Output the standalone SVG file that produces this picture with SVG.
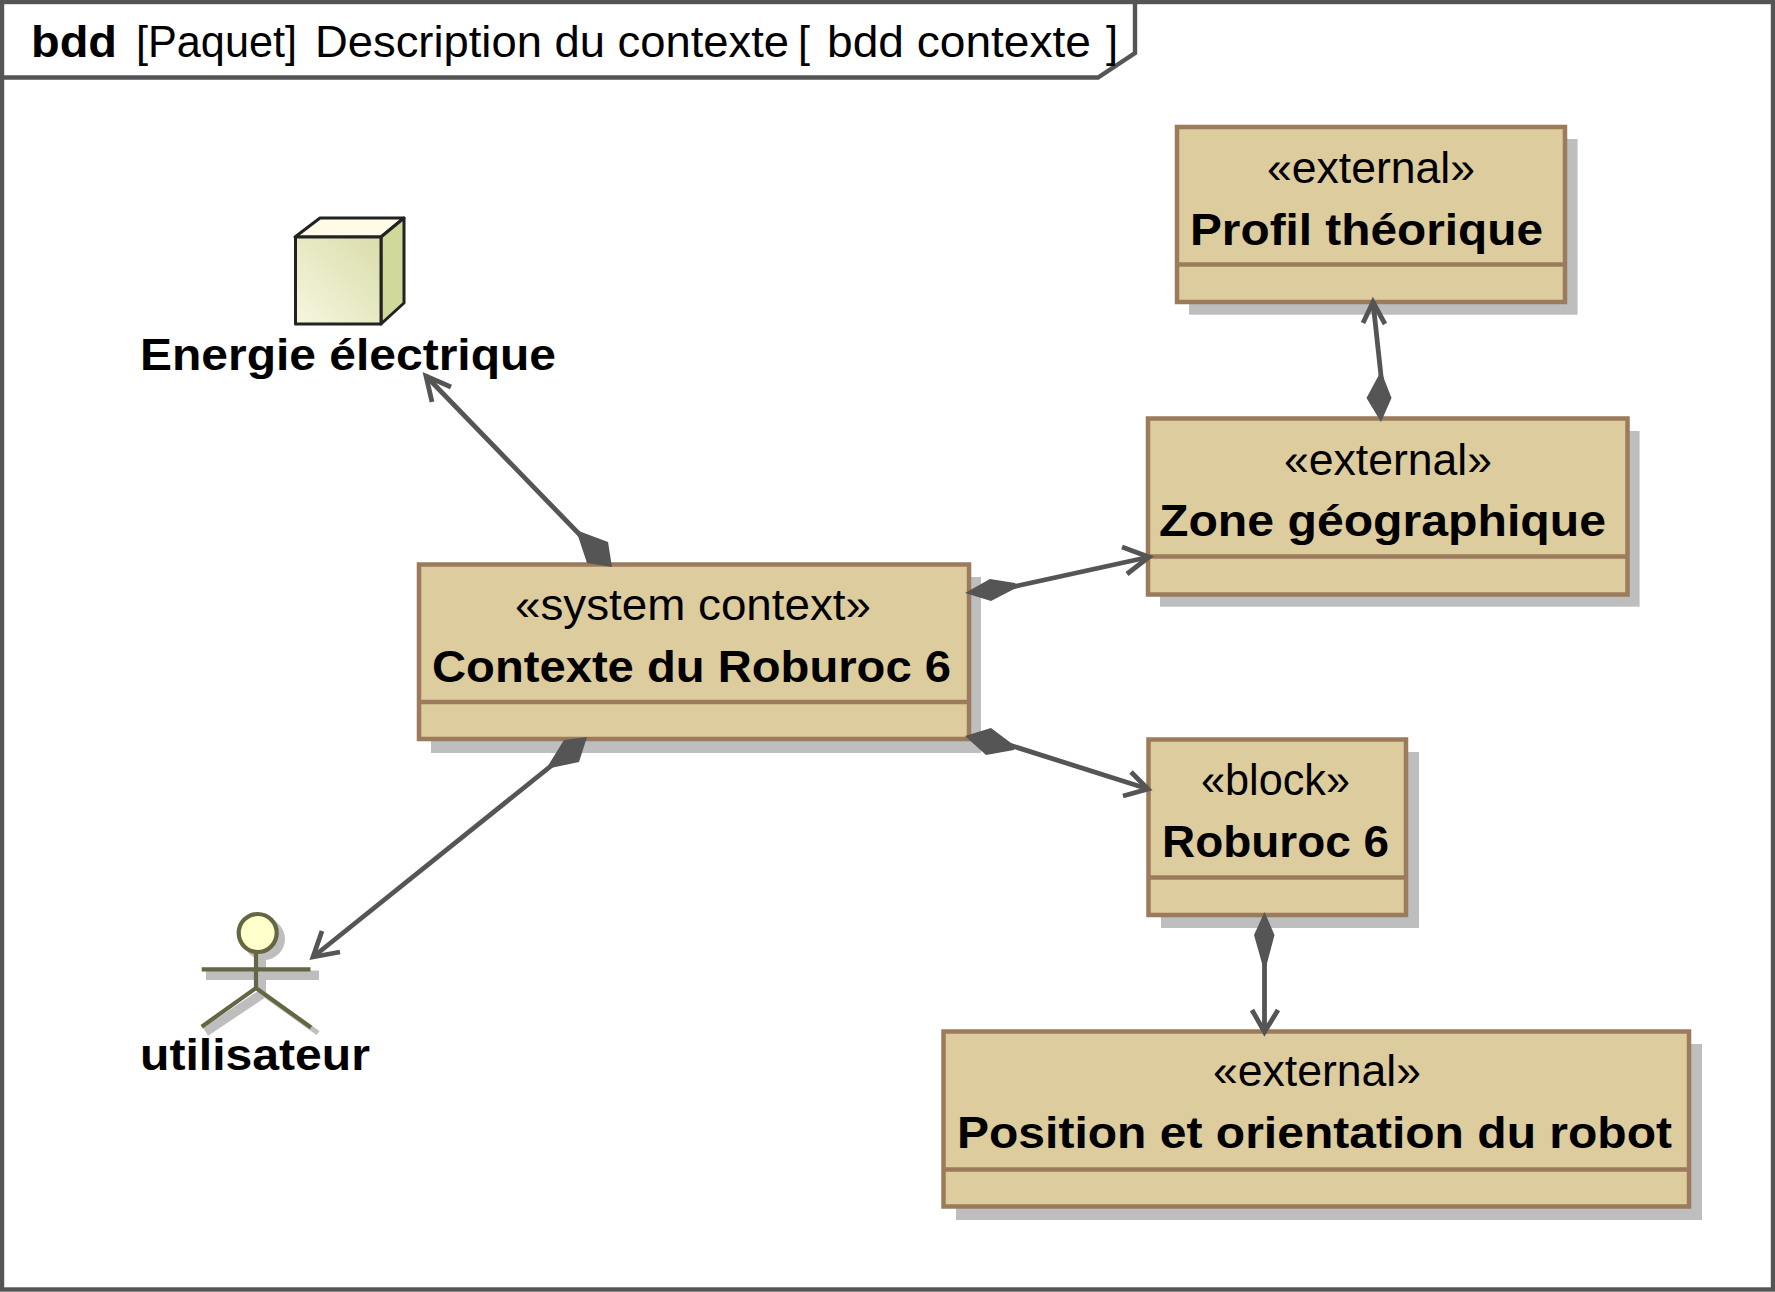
<svg xmlns="http://www.w3.org/2000/svg" width="1775" height="1292" viewBox="0 0 1775 1292">
<defs>
<linearGradient id="cubeFront" x1="0" y1="1" x2="1" y2="0"><stop offset="0" stop-color="#F6F6E0"/><stop offset="1" stop-color="#DADDAA"/></linearGradient>
</defs>
<style>
text{font-family:"Liberation Sans",Arial,sans-serif;font-size:44px;fill:#000}
.b{font-weight:bold}
.box{fill:#DCCC9E;stroke:#9C7B5C;stroke-width:4.5}
.div{stroke:#9C7B5C;stroke-width:4.5;fill:none}
.shadow{fill:#BEBEBE}
.frame{fill:none;stroke:#555;stroke-width:4.4}
.line{fill:none;stroke:#555;stroke-width:4.8}
.head{fill:none;stroke:#555;stroke-width:4.8;stroke-linejoin:miter}
.dia{fill:#555;stroke:none}
.actor{fill:none;stroke:#666644;stroke-width:4.2}
.ashadow{fill:none;stroke:#BEBEBE}
.cube{stroke:#222;stroke-width:3;stroke-linejoin:round}
</style>
<rect width="1775" height="1292" fill="#fff"/>
<g id="frame">
<rect class="frame" x="2" y="2" width="1771" height="1287.500"/>
<path class="frame" d="M2 77.500H1098L1135 53V2"/>
<text x="31" y="57" class="b" textLength="86" lengthAdjust="spacingAndGlyphs">bdd</text>
<text x="136" y="57" textLength="161" lengthAdjust="spacingAndGlyphs">[Paquet]</text>
<text x="315" y="57" textLength="474" lengthAdjust="spacingAndGlyphs">Description du contexte</text>
<text x="798" y="57" textLength="12" lengthAdjust="spacingAndGlyphs">[</text>
<text x="827" y="57" textLength="264" lengthAdjust="spacingAndGlyphs">bdd contexte</text>
<text x="1106" y="57" textLength="12" lengthAdjust="spacingAndGlyphs">]</text>
</g>
<g id="node-energie">
<polygon class="cube" points="295,237 320,218 404,218 381,237" fill="#FFFBE6"/>
<polygon class="cube" points="381,237 404,218 404,303 381,324" fill="#D0D89A"/>
<rect class="cube" x="295.500" y="237" width="85.500" height="87" fill="url(#cubeFront)"/>
<text x="140" y="370" class="b" textLength="416" lengthAdjust="spacingAndGlyphs">Energie électrique</text>
</g>
<g id="node-utilisateur">
<circle cx="264" cy="939" r="21" fill="#BEBEBE"/>
<path class="ashadow" stroke-width="9.500" d="M206 975.300H319"/>
<path class="ashadow" stroke-width="8" d="M262 955V994"/>
<path class="ashadow" stroke-width="9.500" d="M205.500 1031.700L262 994"/>
<path class="ashadow" stroke-width="5" d="M262 993L318 1033"/>
<circle cx="257.700" cy="933" r="19" stroke="#666644" stroke-width="4.200" fill="#FFFFCC"/>
<path class="actor" d="M201.700 969.300H310.500M256 952.500V988M201.700 1026.700L256 988L311 1027.500"/>
<text x="140" y="1070" class="b" textLength="230" lengthAdjust="spacingAndGlyphs">utilisateur</text>
</g>
<g id="node-contexte">
<rect class="shadow" x="431" y="577" width="550" height="176"/>
<rect class="box" x="419" y="564.500" width="550" height="174.500"/>
<line class="div" x1="419" y1="702" x2="969" y2="702"/>
<text x="515" y="620" textLength="356" lengthAdjust="spacingAndGlyphs">«system context»</text>
<text x="432" y="682" class="b" textLength="519" lengthAdjust="spacingAndGlyphs">Contexte du Roburoc 6</text>
</g>
<g id="node-profil">
<rect class="shadow" x="1189" y="139" width="388.600" height="175.700"/>
<rect class="box" x="1177" y="127" width="388" height="175"/>
<line class="div" x1="1177" y1="264.500" x2="1565" y2="264.500"/>
<text x="1267" y="182.700" textLength="208" lengthAdjust="spacingAndGlyphs">«external»</text>
<text x="1190" y="245" class="b" textLength="353" lengthAdjust="spacingAndGlyphs">Profil théorique</text>
</g>
<g id="node-zone">
<rect class="shadow" x="1160" y="431" width="479.600" height="175.700"/>
<rect class="box" x="1148" y="418.500" width="479.500" height="176"/>
<line class="div" x1="1148" y1="556.500" x2="1627.500" y2="556.500"/>
<text x="1284" y="475" textLength="208" lengthAdjust="spacingAndGlyphs">«external»</text>
<text x="1159" y="536" class="b" textLength="447" lengthAdjust="spacingAndGlyphs">Zone géographique</text>
</g>
<g id="node-roburoc">
<rect class="shadow" x="1161" y="752" width="258" height="176"/>
<rect class="box" x="1148.500" y="739.500" width="257.500" height="175.500"/>
<line class="div" x1="1148.500" y1="877.500" x2="1406" y2="877.500"/>
<text x="1201" y="795" textLength="149" lengthAdjust="spacingAndGlyphs">«block»</text>
<text x="1162" y="857" class="b" textLength="227" lengthAdjust="spacingAndGlyphs">Roburoc 6</text>
</g>
<g id="node-position">
<rect class="shadow" x="956" y="1044" width="746" height="176"/>
<rect class="box" x="943.500" y="1031.500" width="745.500" height="175"/>
<line class="div" x1="943.500" y1="1169.500" x2="1689" y2="1169.500"/>
<text x="1213" y="1086" textLength="208" lengthAdjust="spacingAndGlyphs">«external»</text>
<text x="957" y="1148" class="b" textLength="715" lengthAdjust="spacingAndGlyphs">Position et orientation du robot</text>
</g>
<g id="connectors">
<g id="c-energie">
<line class="line" x1="426" y1="376" x2="582" y2="537"/>
<polyline class="head" points="451,387 426,376 432,402"/>
<polygon class="dia" points="576,530 608,542 612,567 587,563"/>
</g>
<g id="c-utilisateur">
<line class="line" x1="313" y1="957" x2="556" y2="762"/>
<polyline class="head" points="322,931 313,957 340,952"/>
<polygon class="dia" points="587,737 564,740 546,769 579,762"/>
</g>
<g id="c-zone">
<line class="line" x1="1003" y1="589" x2="1149" y2="557"/>
<polyline class="head" points="1122,547 1149,557 1127,574"/>
<polygon class="dia" points="965,593 990,579 1015,583 1018,587 991,601"/>
</g>
<g id="c-roburoc">
<line class="line" x1="1003" y1="743" x2="1148" y2="789"/>
<polyline class="head" points="1131,772 1148,789 1123,796"/>
<polygon class="dia" points="965,736 991,728 1015,746 1014,750 986,755"/>
</g>
<g id="c-profil">
<line class="line" x1="1373" y1="302" x2="1382" y2="385"/>
<polyline class="head" points="1363,323 1373,302 1385,324"/>
<polygon class="dia" points="1381,371 1391.500,398 1381,422 1366.500,398"/>
</g>
<g id="c-position">
<line class="line" x1="1264.500" y1="950" x2="1264.500" y2="1032"/>
<polyline class="head" points="1252,1010 1264.500,1032 1278,1010"/>
<polygon class="dia" points="1264.500,912 1274.500,935 1266,967 1263,967 1254,935"/>
</g>
</g>
</svg>
